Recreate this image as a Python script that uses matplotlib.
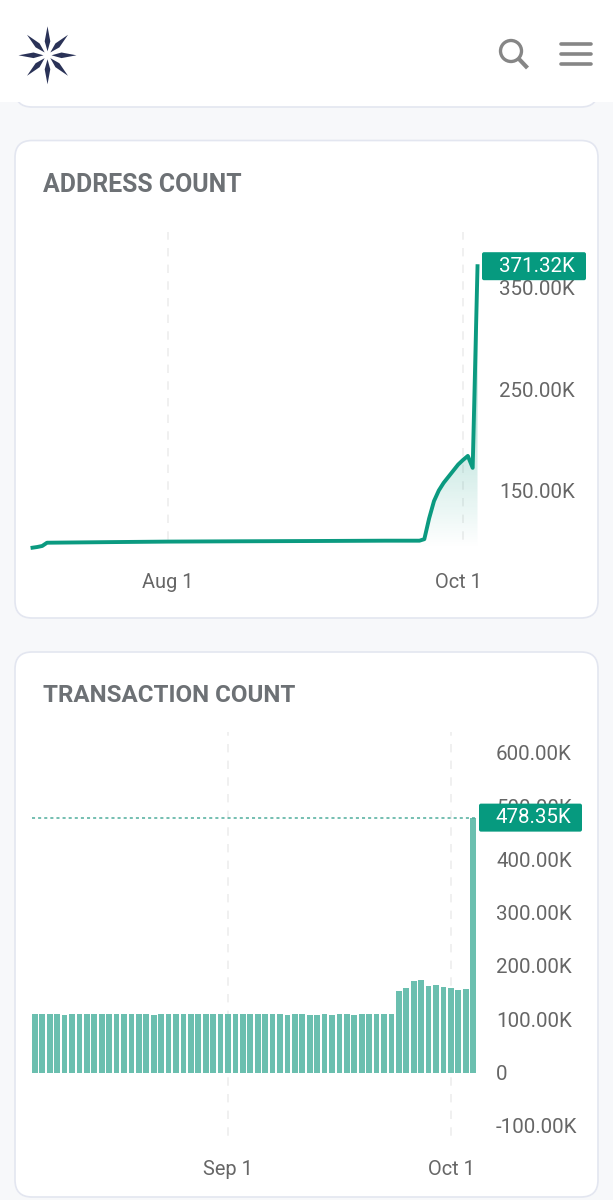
import matplotlib
matplotlib.use('Agg')

import numpy as np
import pandas as pd
import matplotlib.pyplot as plt
import matplotlib.dates as mdates
from matplotlib.patches import FancyBboxPatch, Polygon, Circle, Rectangle
from matplotlib.transforms import ScaledTranslation

# address count, thousands
address_dates = ['2022-07-04', '2022-07-05', '2022-07-06', '2022-07-07', '2022-07-20',
                 '2022-08-01', '2022-08-15', '2022-09-01', '2022-09-15', '2022-09-22',
                 '2022-09-23', '2022-09-24', '2022-09-25', '2022-09-26', '2022-09-27',
                 '2022-09-28', '2022-09-29', '2022-09-30', '2022-10-01', '2022-10-02',
                 '2022-10-03', '2022-10-04']
address_values = [94.1, 94.8, 95.8, 99.0, 99.6, 100.1, 100.4, 100.7, 101.0, 101.0,
                  102.5, 123.0, 140.0, 150.5, 158.0, 164.0, 170.0, 176.0, 180.5, 184.5,
                  172.7, 371.32]
address_ticks = [150, 250, 350]
address_tick_labels = ['150.00K', '250.00K', '350.00K']

# transaction count, thousands, daily from Aug 6
tx_start = '2022-08-06'
tx_values = [109.5, 110.7, 110.7, 110.7, 108.8, 110.7, 109.5, 109.5, 110.7, 109.5,
             109.5, 110.7, 109.5, 109.5, 110.1, 109.5, 108.2, 110.7, 109.5, 109.5,
             110.1, 109.5, 109.5, 109.5, 110.1, 109.5, 109.5, 110.1, 109.5, 109.5,
             110.1, 109.5, 109.5, 110.1, 108.2, 109.5, 110.1, 108.2, 108.2, 110.1,
             108.2, 109.5, 110.1, 108.2, 109.5, 109.5, 109.5, 109.5, 109.5, 153.0,
             158.0, 172.0, 174.5, 163.0, 164.5, 161.0, 158.0, 155.0, 157.0, 478.35]
tx_ticks = [-100, 0, 100, 200, 300, 400, 500, 600]
tx_tick_labels = ['-100.00K', '0', '100.00K', '200.00K', '300.00K', '400.00K', '500.00K', '600.00K']

W, H = 613, 1200
TEAL = '#0b9a80'
TAG = '#069a7f'
BAR = '#6bbfaf'
TEXT = '#666666'
TITLE = '#6d7175'
GRID = '#ededed'
NAVY = '#2a3257'
ICON = '#868686'

plt.rcParams['font.family'] = ['Roboto', 'DejaVu Sans']
fig = plt.figure(figsize=(W / 100, H / 100), dpi=100, facecolor='#f7f8fa')


def px_axes(left, top, right, bottom, **kw):
    return fig.add_axes([left / W, 1 - bottom / H, (right - left) / W, (bottom - top) / H], **kw)


# page background, cards and header in pixel coordinates
bg = px_axes(0, 0, W, H, zorder=0)
bg.set_xlim(0, W)
bg.set_ylim(H, 0)
bg.axis('off')


def card(top, bottom):
    bg.add_patch(FancyBboxPatch((15, top), 583, bottom - top,
                                boxstyle='round,pad=0,rounding_size=17',
                                fc='white', ec='#e3e6f0', lw=1.2))


card(-60, 107)
card(140.5, 618)
card(652, 1197)
bg.add_patch(Rectangle((0, 0), W, 101.5, fc='white', ec='none', zorder=3))

# logo
cx, cy = 47.5, 55.3
for a in np.deg2rad(np.arange(0, 360, 45)):
    d = np.array([np.cos(a), np.sin(a)])
    n = np.array([-d[1], d[0]])
    c = np.array([cx, cy])
    bg.add_patch(Polygon([c + 4 * d, c + 14 * d + 2.8 * n, c + 29 * d, c + 14 * d - 2.8 * n],
                         fc=NAVY, ec='none', zorder=4))

# search + menu icons
bg.add_patch(Circle((511, 51), 10.5, fc='none', ec=ICON, lw=2.4, zorder=4))
bg.plot([518.5, 527.5], [58.5, 68], color=ICON, lw=3, zorder=4, solid_capstyle='butt')
for y in [43.5, 53.5, 63.5]:
    bg.plot([561, 590.5], [y, y], color=ICON, lw=2.6, zorder=4, solid_capstyle='round')

bg.text(43, 184.5, 'ADDRESS COUNT', fontsize=17.9, fontweight='bold', color=TITLE, va='center')
bg.text(43, 695.5, 'TRANSACTION COUNT', fontsize=17.4, fontweight='bold', color=TITLE, va='center')


def style_axes(ax, y_pad, x_pad):
    ax.patch.set_alpha(0)
    for s in ax.spines.values():
        s.set_visible(False)
    ax.yaxis.tick_right()
    ax.tick_params(axis='y', length=0, pad=y_pad, labelsize=14.8, labelcolor=TEXT)
    ax.tick_params(axis='x', length=0, pad=x_pad, labelsize=14.4, labelcolor=TEXT)
    ax.grid(axis='x', color=GRID, lw=1.2, ls=(5, (5, 5)))
    ax.grid(axis='y', visible=False)
    ax.set_axisbelow(True)


# address count line chart
ax1 = px_axes(33, 232, 478, 548, zorder=1)
x1 = mdates.date2num(pd.to_datetime(address_dates))
aug1 = mdates.date2num(pd.Timestamp('2022-08-01'))
ax1.set_xlim(aug1 - 27.9, aug1 + 64.1)
ax1.set_ylim(93.8, 405)

# fading area under the line
grad = np.ones((256, 2, 4))
grad[..., :3] = matplotlib.colors.to_rgb(TEAL)
grad[..., 3] = np.linspace(0.62, 0, 256)[:, None]
img = ax1.imshow(grad, extent=[x1[0], x1[-1], 93.8, 371.32], aspect='auto', zorder=1.5,
                 interpolation='bilinear')
clip = Polygon(list(zip(x1, address_values)) + [(x1[-1], 93.8), (x1[0], 93.8)],
               transform=ax1.transData, fc='none', ec='none')
ax1.add_patch(clip)
img.set_clip_path(clip)
ax1.set_xlim(aug1 - 27.9, aug1 + 64.1)
ax1.set_ylim(93.8, 405)

ax1.plot(x1, address_values, color=TEAL, lw=2.8, clip_on=False, zorder=3, solid_joinstyle='round')
oct1 = mdates.date2num(pd.Timestamp('2022-10-01'))
ax1.set_xticks([aug1, oct1], ['Aug 1', 'Oct 1'])
ax1.set_yticks(address_ticks, address_tick_labels)
style_axes(ax1, 15, 18)
# the last date label is pushed inwards so it stays in the card
lab = ax1.get_xticklabels()[1]
lab.set_transform(lab.get_transform() + ScaledTranslation(-5 / 100, 0, fig.dpi_scale_trans))

# transaction count bars
ax2 = px_axes(32, 732, 478, 1144, zorder=1)
x2 = pd.date_range(tx_start, periods=len(tx_values))
sep1 = mdates.date2num(pd.Timestamp('2022-09-01'))
ax2.bar(x2, tx_values, width=0.76, color=BAR, zorder=2)
ax2.set_xlim(sep1 - 26.38, sep1 + 33.65)
ax2.set_ylim(-134, 639)
ax2.axhline(tx_values[-1], color='#4fae9d', lw=1.1, ls=(0, (2, 2)), zorder=3)
ax2.set_xticks([sep1, oct1], ['Sep 1', 'Oct 1'])
ax2.set_yticks(tx_ticks, tx_tick_labels)
style_axes(ax2, 13, 11.5)

# value tags on top of the tick labels
over = px_axes(0, 0, W, H, zorder=5)
over.set_xlim(0, W)
over.set_ylim(H, 0)
over.axis('off')


def tag(ax, value, left, right, text_x, text):
    y = H - ax.transData.transform((0, value))[1]
    over.add_patch(FancyBboxPatch((left, y - 14), right - left, 28,
                                  boxstyle='round,pad=0,rounding_size=2', fc=TAG, ec='none'))
    over.text(text_x, y, text, color='white', fontsize=14.8, va='center')


tag(ax1, address_values[-1], 482, 586, 499, '371.32K')
tag(ax2, tx_values[-1], 479, 582, 496, '478.35K')

fig.savefig('out.png', dpi=100, facecolor=fig.get_facecolor())
